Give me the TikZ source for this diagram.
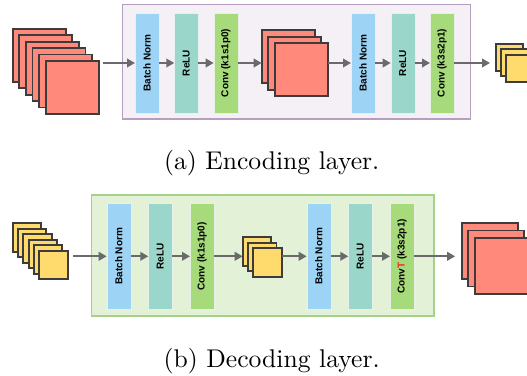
\documentclass[tikz,border=0pt]{standalone}
\usepackage{fontspec}
\newfontfamily\barfont{Liberation Sans}
\usetikzlibrary{arrows.meta}

\definecolor{sqred}{HTML}{FF8A7C}
\definecolor{sqyel}{HTML}{FFDB6E}
\definecolor{sqedge}{HTML}{3C3C3C}
\definecolor{bnblue}{HTML}{9DD3F4}
\definecolor{reluteal}{HTML}{9AD6CA}
\definecolor{convgreen}{HTML}{A6DA7B}
\definecolor{encfill}{HTML}{F4F0F6}
\definecolor{encedge}{HTML}{B59EC0}
\definecolor{decfill}{HTML}{E3F1D6}
\definecolor{decedge}{HTML}{A5D28A}
\definecolor{arrgray}{HTML}{6A6A6A}
\definecolor{tred}{HTML}{E8302A}

\tikzset{
  fmap/.style={draw=sqedge, line width=1.9pt, minimum size=#1, inner sep=0pt,
    outer sep=0pt, anchor=north west},
  redmap/.style={fmap=#1, fill=sqred},
  yelmap/.style={fmap=#1, fill=sqyel},
  opbar/.style 2 args={fill=#1, draw=#1!85!black!20!white, line width=0.4pt,
    minimum width=24pt, minimum height=#2, inner sep=0pt, outer sep=0pt,
    anchor=north west, font=\barfont\bfseries\fontsize{10}{10}\selectfont},
  layerbox/.style 2 args={fill=#1, draw=#2, line width=1.4pt},
  flow/.style={draw=arrgray, line width=2.2pt,
    -{Triangle[length=8pt,width=8.5pt]}, arrgray},
  caption/.style={anchor=base, scale=2.56, inner sep=0pt}
}

\begin{document}
\begin{tikzpicture}[x=1pt, y=-1pt]
\useasboundingbox (0,0) rectangle (527,375);

% ---------------- encoding layer ----------------
\draw[layerbox={encfill}{encedge}] (122.7,4.7) rectangle (470.7,119);

\foreach \i in {0,...,5}
  \node[redmap=53pt] (ea\i) at (12.7+6.6*\i, 28.7+6.46*\i) {};
\foreach \i in {0,1,2}
  \node[redmap=53pt] (eb\i) at (261.7+6.65*\i, 30+6.65*\i) {};
\foreach \i in {0,1,2}
  \node[yelmap=27pt] (ec\i) at (496+5*\i, 44+5.3*\i) {};

\node[opbar={bnblue}{100.6pt}]    (ebn1)   at (135,12.7)   {\rotatebox{90}{Batch Norm}};
\node[opbar={reluteal}{100.6pt}]  (erelu1) at (174.3,12.7) {\rotatebox{90}{ReLU}};
\node[opbar={convgreen}{100.6pt}] (econv1) at (213.7,12.7) {\rotatebox{90}{Conv (k1s1p0)}};
\node[opbar={bnblue}{100.6pt}]    (ebn2)   at (351,12.7)   {\rotatebox{90}{Batch Norm}};
\node[opbar={reluteal}{100.6pt}]  (erelu2) at (390.7,12.7) {\rotatebox{90}{ReLU}};
\node[opbar={convgreen}{100.6pt}] (econv2) at (430,12.7)   {\rotatebox{90}{Conv (k3s2p1)}};

\draw[flow, shorten <=4pt] (ea5.east |- ebn1.west) -- (ebn1.west);
\draw[flow] (ebn1.east) -- (erelu1.west);
\draw[flow] (erelu1.east) -- (econv1.west);
\draw[flow] (econv1.east) -- (eb0.west |- econv1.east);
\draw[flow] (eb2.east |- ebn2.west) -- (ebn2.west);
\draw[flow] (ebn2.east) -- (erelu2.west);
\draw[flow] (erelu2.east) -- (econv2.west);
\draw[flow, shorten >=6pt] (econv2.east) -- (ec0.west |- econv2.east);

\node[caption] (capa) at (271.7,169.5) {(a) Encoding layer.};

% ---------------- decoding layer ----------------
\draw[layerbox={decfill}{decedge}] (91.7,195) rectangle (434,316);

\foreach \i in {0,...,5}
  \node[yelmap=28.4pt] (da\i) at (12.7+5.3*\i, 223.3+5.5*\i) {};
\foreach \i in {0,1,2}
  \node[yelmap=28.5pt] (db\i) at (242.7+5.3*\i, 237.3+5.5*\i) {};
\foreach \i in {0,1,2}
  \node[redmap=56pt] (dc\i) at (461.7+6.65*\i, 223.3+7.2*\i) {};

\node[opbar={bnblue}{106pt}]    (dbn1)   at (106.7,203.3) {\rotatebox{90}{Batch Norm}};
\node[opbar={reluteal}{106pt}]  (drelu1) at (148.3,203.3) {\rotatebox{90}{ReLU}};
\node[opbar={convgreen}{106pt}] (dconv1) at (190,203.3)   {\rotatebox{90}{Conv (k1s1p0)}};
\node[opbar={bnblue}{106pt}]    (dbn2)   at (306.7,203.3) {\rotatebox{90}{Batch Norm}};
\node[opbar={reluteal}{106pt}]  (drelu2) at (348.3,203.3) {\rotatebox{90}{ReLU}};
\node[opbar={convgreen}{106pt}] (dconv2) at (390,203.3)   {\rotatebox{90}{Conv\textcolor{tred}{T} (k3s2p1)}};

\draw[flow, shorten <=5.5pt] (da5.east |- dbn1.west) -- (dbn1.west);
\draw[flow] (dbn1.east) -- (drelu1.west);
\draw[flow] (drelu1.east) -- (dconv1.west);
\draw[flow] (dconv1.east) -- (db0.west |- dconv1.east);
\draw[flow] (db2.east |- dbn2.west) -- (dbn2.west);
\draw[flow] (dbn2.east) -- (drelu2.west);
\draw[flow] (drelu2.east) -- (dconv2.west);
\draw[flow, shorten >=6.5pt] (dconv2.east) -- (dc0.west |- dconv2.east);

\node[caption] (capb) at (271.7,367.7) {(b) Decoding layer.};
\end{tikzpicture}
\end{document}
